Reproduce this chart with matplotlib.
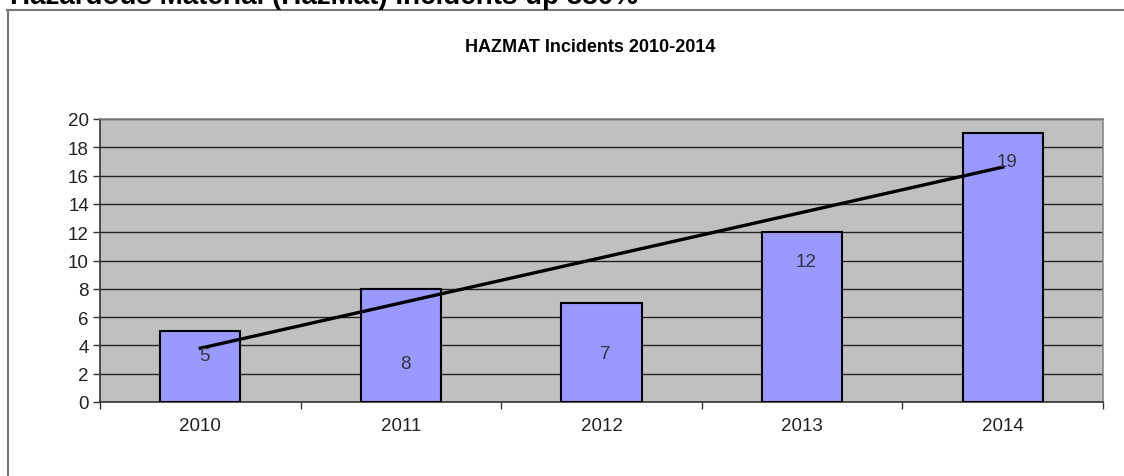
import numpy as np
import matplotlib.pyplot as plt
from matplotlib.lines import Line2D

# HAZMAT incidents per year, with a linear trendline
years = ["2010", "2011", "2012", "2013", "2014"]
incidents = [5, 8, 7, 12, 19]

plt.rcParams["font.family"] = ["Liberation Sans", "DejaVu Sans"]

fig = plt.figure(figsize=(11.24, 4.77), dpi=100)
fig.patch.set_facecolor("white")

# page heading, cut off at the top edge like in the source page
fig.text(0.009, 1 - 4 / 477, "Hazardous Material (HazMat) Incidents up 380%",
         fontsize=20, fontweight="bold", va="baseline", ha="left")

# outer frame (top and left)
fig.add_artist(Line2D([7 / 1124, 1.0], [1 - 10.5 / 477] * 2, color="#777777", lw=1.5))
fig.add_artist(Line2D([7.5 / 1124] * 2, [0, 1 - 10.5 / 477], color="#777777", lw=1.5))

fig.text(590 / 1124, 1 - 47 / 477, "HAZMAT Incidents 2010-2014",
         fontsize=13, fontweight="bold", ha="center", va="center")

ax = fig.add_axes([100 / 1124, 1 - 403 / 477, 1003 / 1124, 283 / 477])
ax.set_facecolor("#c0c0c0")

x = np.arange(len(years))
ax.bar(x, incidents, width=0.4, color="#9999ff", edgecolor="black", linewidth=1.5, zorder=3)

# trendline
slope, icpt = np.polyfit(x, incidents, 1)
ax.plot([x[0], x[-1]], [icpt + slope * x[0], icpt + slope * x[-1]],
        color="black", lw=2.4, zorder=4)

# data labels (positions)
label_y = [3.3, 2.7, 3.4, 9.9, 17.0]
for xi, v, ly in zip(x, incidents, label_y):
    ax.text(xi + 0.02, ly, str(v), ha="center", va="center", fontsize=13.5,
            color="#333344", zorder=5)

ax.set_xlim(-0.5, 4.5)
ax.set_ylim(0, 20)
ax.set_yticks(np.arange(0, 21, 2))
ax.yaxis.grid(True, color="#222222", lw=1.0, zorder=1)
ax.set_axisbelow(True)

ax.set_xticks(x)
ax.set_xticklabels(years)
ax.set_xticks(np.arange(-0.5, 4.6, 1), minor=True)
ax.tick_params(axis="x", which="major", length=0, pad=11, labelsize=13.5, labelcolor="#222222")
ax.tick_params(axis="x", which="minor", length=5, width=1, color="#333333", direction="out")
ax.tick_params(axis="y", length=5, width=1, color="#333333", labelsize=13.5,
               labelcolor="#222222", pad=3)

for side in ["top", "right"]:
    ax.spines[side].set_color("#888888")
    ax.spines[side].set_linewidth(1.2)
for side in ["left", "bottom"]:
    ax.spines[side].set_color("#333333")
    ax.spines[side].set_linewidth(1.2)

fig.savefig("out.png", dpi=100)
